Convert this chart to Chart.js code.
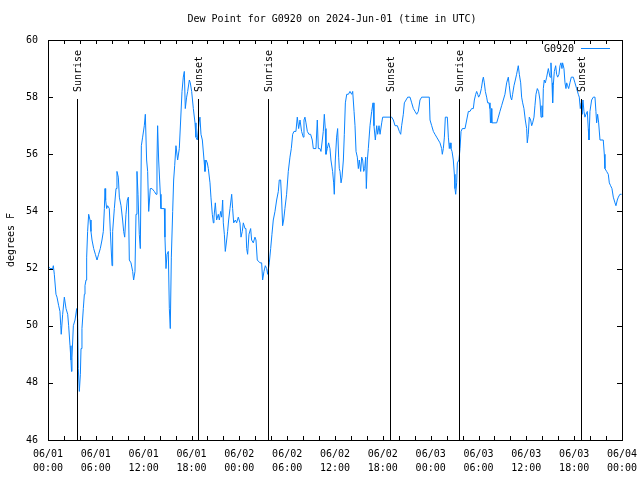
<!DOCTYPE html>
<html>
<head>
<meta charset="utf-8">
<script src="https://cdn.jsdelivr.net/npm/chart.js@4.4.1/dist/chart.umd.min.js"></script>
<style>
  html, body { margin: 0; padding: 0; background: #fff; }
</style>
</head>
<body>
<canvas id="chart" width="640" height="480"></canvas>
<script>
// hours since 06/01 00:00 UTC
const hours = [
  0, 0.25, 0.59, 0.67, 0.79, 1.00, 1.13, 1.34, 1.50, 1.60, 1.66, 1.84, 2.05, 2.26, 2.47, 2.59, 2.76, 2.88, 2.95, 3.01,
  3.18, 3.39, 3.60, 3.72, 3.80, 3.93, 4.06, 4.14, 4.26, 4.43, 4.56, 4.64, 4.77, 4.85, 4.97, 5.10, 5.27, 5.39, 5.52, 5.73,
  5.94, 6.15, 6.35, 6.56, 6.77, 6.94, 7.07, 7.15, 7.23, 7.36, 7.48, 7.69, 7.82, 8.03, 8.11, 8.32, 8.53, 8.65, 8.82, 8.95,
  9.16, 9.36, 9.49, 9.62, 9.78, 9.95, 10.08, 10.20, 10.41, 10.62, 10.74, 10.91, 11.04, 11.16, 11.29, 11.45, 11.58, 11.71, 11.87, 12.08,
  12.21, 12.37, 12.50, 12.63, 12.83, 13.04, 13.34, 13.55, 13.67, 13.75, 13.88, 14.09, 14.17, 14.59, 14.67, 14.80, 14.93, 15.09, 15.22, 15.34,
  15.47, 15.64, 15.76, 15.89, 16.05, 16.26, 16.47, 16.64, 16.81, 16.97, 17.10, 17.22, 17.39, 17.52, 17.73, 17.85, 18.02, 18.23, 18.44, 18.56,
  18.73, 18.94, 19.06, 19.19, 19.36, 19.57, 19.69, 19.82, 19.98, 20.11, 20.32, 20.44, 20.61, 20.74, 20.82, 20.99, 21.15, 21.36, 21.49, 21.66,
  21.78, 21.91, 21.99, 22.12, 22.24, 22.41, 22.53, 22.66, 22.83, 23.04, 23.16, 23.29, 23.50, 23.66, 23.87, 24.08, 24.21, 24.37, 24.50, 24.71,
  24.83, 24.92, 25.04, 25.21, 25.42, 25.54, 25.75, 25.96, 26.09, 26.25, 26.59, 26.80, 26.92, 27.09, 27.26, 27.43, 27.55, 27.76, 27.93, 28.09,
  28.26, 28.47, 28.68, 28.89, 29.01, 29.18, 29.31, 29.43, 29.56, 29.72, 29.93, 30.14, 30.35, 30.52, 30.69, 30.85, 31.10, 31.27, 31.44, 31.61,
  31.81, 32.02, 32.11, 32.23, 32.36, 32.53, 32.73, 32.94, 33.15, 33.28, 33.61, 33.78, 33.91, 34.11, 34.24, 34.41, 34.53, 34.66, 34.78, 34.87,
  35.03, 35.20, 35.37, 35.49, 35.70, 35.83, 35.91, 36.04, 36.20, 36.33, 36.46, 36.54, 36.63, 36.76, 36.88, 37.05, 37.17, 37.30, 37.47, 37.68,
  37.88, 38.09, 38.22, 38.39, 38.51, 38.64, 38.80, 38.93, 39.05, 39.22, 39.35, 39.47, 39.60, 39.72, 39.85, 39.93, 40.06, 40.18, 40.39, 40.60,
  40.77, 40.89, 41.06, 41.23, 41.35, 41.52, 41.65, 41.86, 41.98, 43.11, 43.32, 43.53, 43.82, 44.07, 44.24, 44.36, 44.57, 44.70, 44.91, 45.12,
  45.41, 45.62, 45.83, 46.04, 46.25, 46.45, 46.66, 46.87, 47.83, 47.92, 48.13, 48.34, 48.54, 48.75, 48.96, 49.17, 49.38, 49.46, 49.59, 49.72,
  49.84, 50.09, 50.22, 50.34, 50.43, 50.55, 50.68, 50.84, 50.97, 51.05, 51.14, 51.26, 51.35, 51.55, 51.68, 51.81, 51.97, 52.31, 52.52, 52.73,
  52.93, 53.14, 53.35, 53.48, 53.65, 53.77, 53.90, 54.02, 54.19, 54.36, 54.52, 54.61, 54.73, 54.86, 55.02, 55.15, 55.32, 55.44, 55.50, 55.60,
  55.67, 56.07, 56.28, 56.49, 56.69, 56.90, 57.11, 57.32, 57.53, 57.74, 57.86, 58.03, 58.16, 58.28, 58.45, 58.62, 58.78, 58.99, 59.12, 59.29,
  59.41, 59.54, 59.70, 59.87, 60.04, 60.12, 60.25, 60.37, 60.54, 60.67, 60.79, 60.96, 61.08, 61.21, 61.38, 61.54, 61.71, 61.84, 61.96, 62.05,
  62.13, 62.25, 62.38, 62.55, 62.76, 62.97, 63.09, 63.22, 63.30, 63.38, 63.51, 63.68, 63.80, 63.93, 64.09, 64.22, 64.34, 64.47, 64.55, 64.72,
  64.85, 64.97, 65.06, 65.18, 65.31, 65.47, 65.64, 65.89, 66.10, 66.31, 66.52, 66.64, 66.77, 66.90, 66.98, 67.10, 67.23, 67.35, 67.48, 67.65,
  67.77, 67.86, 67.98, 68.19, 68.40, 68.61, 68.73, 68.82, 68.94, 69.07, 69.24, 69.65, 69.78, 69.86, 70.07, 70.28, 70.41, 70.57, 70.74, 70.91,
  71.12, 71.24, 71.41, 71.54, 71.74, 71.95
];

// dew point, degrees F
const dewPoint = [
  52.1, 52.0, 52.0, 52.1, 51.8, 51.1, 51.0, 50.7, 50.5, 50.0, 49.7, 50.4, 51.0, 50.6, 50.4, 50.0, 49.3, 48.8, 48.4, 48.9,
  50.0, 50.2, 50.6, 50.2, 48.5, 47.7, 48.3, 49.2, 49.9, 50.6, 51.1, 51.4, 51.6, 52.4, 53.3, 53.9, 53.7, 53.3, 53.0, 52.7,
  52.5, 52.3, 52.5, 52.7, 53.0, 53.3, 54.1, 54.8, 54.4, 54.1, 54.2, 54.1, 53.3, 52.1, 53.3, 54.1, 54.8, 55.4, 55.2, 54.5,
  54.2, 53.7, 53.3, 53.1, 53.9, 54.4, 54.5, 52.3, 52.2, 51.9, 51.6, 51.9, 53.9, 55.4, 54.6, 53.2, 52.7, 56.3, 56.6, 57.0,
  57.4, 55.8, 55.4, 54.0, 54.8, 54.8, 54.7, 54.6, 55.8, 57.0, 55.8, 54.6, 54.1, 54.1, 53.1, 52.0, 52.5, 52.6, 50.6, 49.9,
  52.4, 54.0, 55.1, 55.6, 56.3, 55.8, 56.2, 57.2, 58.2, 58.7, 58.9, 57.6, 58.0, 58.2, 58.6, 58.5, 58.2, 57.6, 57.1, 56.6,
  56.5, 57.1, 57.3, 56.7, 56.5, 55.8, 55.4, 55.8, 55.7, 55.5, 55.0, 54.5, 53.9, 53.6, 53.8, 54.3, 53.7, 53.9, 53.7, 54.0,
  53.8, 54.4, 53.6, 53.2, 52.6, 53.0, 53.3, 53.7, 54.1, 54.6, 54.1, 53.6, 53.7, 53.6, 53.8, 53.6, 53.1, 53.3, 53.6, 53.4,
  53.4, 52.7, 52.5, 53.2, 53.4, 53.0, 52.9, 53.1, 53.0, 52.3, 52.2, 52.2, 51.6, 51.9, 52.1, 52.0, 51.8, 52.2, 52.7, 53.2,
  53.7, 54.0, 54.4, 54.7, 55.1, 55.1, 54.4, 53.5, 53.7, 54.1, 54.6, 55.4, 55.9, 56.2, 56.7, 56.8, 56.8, 57.3, 56.9, 57.2,
  56.8, 56.6, 57.2, 57.3, 57.1, 56.8, 56.7, 56.7, 56.5, 56.2, 56.2, 57.2, 56.2, 56.2, 56.1, 56.5, 56.8, 57.4, 56.9, 56.0,
  56.2, 56.4, 56.2, 55.8, 55.4, 55.0, 54.6, 55.8, 56.6, 56.9, 55.9, 55.5, 55.4, 55.0, 55.2, 55.8, 56.7, 57.8, 58.1, 58.1,
  58.2, 58.1, 58.2, 57.5, 57.0, 56.1, 55.9, 55.5, 55.8, 55.4, 55.9, 55.8, 55.4, 55.5, 55.9, 54.8, 55.8, 56.2, 57.0, 57.5,
  57.8, 57.0, 56.5, 57.0, 56.7, 57.0, 56.7, 57.1, 57.3, 57.3, 57.2, 57.0, 57.0, 56.8, 56.7, 57.0, 57.4, 57.8, 57.9, 58.0,
  58.0, 57.8, 57.6, 57.5, 57.4, 57.5, 57.9, 58.0, 58.0, 57.2, 57.0, 56.8, 56.7, 56.6, 56.5, 56.4, 56.2, 56.0, 56.2, 56.6,
  57.3, 57.3, 56.6, 56.2, 56.4, 56.2, 56.1, 55.8, 55.3, 54.8, 54.6, 55.0, 55.7, 55.8, 56.2, 56.8, 56.9, 56.9, 57.2, 57.5,
  57.5, 57.6, 57.6, 57.9, 58.1, 58.2, 58.1, 58.0, 58.1, 58.3, 58.6, 58.7, 58.5, 58.2, 58.0, 57.8, 57.8, 57.6, 57.1, 57.6,
  57.1, 57.1, 57.1, 57.3, 57.5, 57.7, 57.9, 58.1, 58.5, 58.7, 58.4, 58.0, 57.9, 58.1, 58.4, 58.6, 58.8, 59.1, 58.8, 58.5,
  58.0, 57.8, 57.6, 57.2, 56.9, 56.4, 56.7, 57.3, 57.2, 57.0, 57.1, 57.3, 57.7, 58.1, 58.3, 58.2, 57.9, 57.3, 57.7, 57.3,
  58.3, 58.6, 58.5, 58.7, 59.0, 58.7, 59.2, 58.5, 57.8, 58.4, 58.9, 59.1, 58.8, 58.7, 58.8, 59.1, 59.2, 59.0, 59.2, 59.0,
  58.5, 58.3, 58.5, 58.4, 58.3, 58.5, 58.7, 58.7, 58.5, 58.3, 58.1, 58.0, 57.6, 57.8, 57.4, 57.9, 57.5, 57.3, 57.4, 57.5,
  56.9, 56.5, 57.5, 57.9, 58.0, 58.0, 57.5, 57.1, 57.4, 57.1, 56.5, 56.5, 56.0, 55.5, 55.4, 55.3, 55.0, 54.9, 54.8, 54.5,
  54.3, 54.2, 54.4, 54.5, 54.6, 54.6
];

const sunTimes = [3.6, 18.85, 27.55, 42.85, 51.6, 66.9];
const sunLabels = ['Sunrise', 'Sunset', 'Sunrise', 'Sunset', 'Sunrise', 'Sunset'];

const xTickLabels = [
  ['06/01', '00:00'], ['06/01', '06:00'], ['06/01', '12:00'], ['06/01', '18:00'],
  ['06/02', '00:00'], ['06/02', '06:00'], ['06/02', '12:00'], ['06/02', '18:00'],
  ['06/03', '00:00'], ['06/03', '06:00'], ['06/03', '12:00'], ['06/03', '18:00'],
  ['06/04', '00:00']
];
const yTicks = [46, 48, 50, 52, 54, 56, 58, 60];

const stationName = 'G0920';
const titleText = 'Dew Point for G0920 on 2024-Jun-01 (time in UTC)';
const yTitle = 'degrees F';
const lineColor = '#0a84ff';
const monoFont = '"DejaVu Sans Mono", "Liberation Mono", monospace';

// gnuplot-like frame, inward ticks, sun lines, title and key
const decorations = {
  id: 'decorations',
  beforeDraw(chart) {
    const c = chart.ctx;
    c.save();
    c.fillStyle = '#fff';
    c.fillRect(0, 0, chart.width, chart.height);
    c.restore();
  },
  afterDatasetsDraw(chart) {
    const c = chart.ctx;
    const a = chart.chartArea;
    const xs = chart.scales.x;
    const ys = chart.scales.y;
    c.save();
    c.strokeStyle = '#000';
    c.fillStyle = '#000';
    c.lineWidth = 1;

    // ticks every 2 hours, top and bottom
    c.beginPath();
    for (let h = 0; h <= 72; h += 2) {
      const x = Math.round(xs.getPixelForValue(h)) + 0.5;
      c.moveTo(x, a.bottom); c.lineTo(x, a.bottom - 4);
      c.moveTo(x, a.top); c.lineTo(x, a.top + 4);
    }
    yTicks.forEach(v => {
      const y = Math.round(ys.getPixelForValue(v)) + 0.5;
      c.moveTo(a.left, y); c.lineTo(a.left + 5, y);
      c.moveTo(a.right, y); c.lineTo(a.right - 5, y);
    });
    c.stroke();

    // sunrise / sunset markers
    c.font = '10px ' + monoFont;
    sunTimes.forEach((t, i) => {
      const x = Math.round(xs.getPixelForValue(t)) + 0.5;
      c.beginPath();
      c.moveTo(x, a.top + 59);
      c.lineTo(x, a.bottom);
      c.stroke();
      c.save();
      c.translate(x + 1, a.top + 52);
      c.rotate(-Math.PI / 2);
      c.textAlign = 'left';
      c.textBaseline = 'middle';
      c.fillText(sunLabels[i], 0, 0);
      c.restore();
    });

    // frame
    c.strokeRect(Math.round(a.left) + 0.5, Math.round(a.top) + 0.5,
      Math.round(a.right - a.left), Math.round(a.bottom - a.top));

    // title
    c.textAlign = 'center';
    c.textBaseline = 'middle';
    c.fillText(titleText, 332, 19);

    // y axis title
    c.save();
    c.translate(11, (a.top + a.bottom) / 2);
    c.rotate(-Math.PI / 2);
    c.fillText(yTitle, 0, 0);
    c.restore();

    // key
    c.textAlign = 'right';
    c.fillText(stationName, a.right - 48, a.top + 9);
    c.strokeStyle = lineColor;
    c.beginPath();
    c.moveTo(a.right - 41, a.top + 8.5);
    c.lineTo(a.right - 12, a.top + 8.5);
    c.stroke();
    c.restore();
  }
};

const ctx = document.getElementById('chart').getContext('2d');
new Chart(ctx, {
  type: 'line',
  data: {
    datasets: [{
      label: stationName,
      data: hours.map((h, i) => ({ x: h, y: dewPoint[i] })),
      borderColor: lineColor,
      borderWidth: 1,
      pointRadius: 0,
      tension: 0,
      fill: false
    }]
  },
  options: {
    responsive: false,
    animation: false,
    events: [],
    layout: { padding: { top: 40, right: 18, bottom: 0, left: 0 } },
    plugins: {
      legend: { display: false },
      tooltip: { enabled: false },
      title: { display: false }
    },
    scales: {
      x: {
        type: 'linear',
        min: 0,
        max: 72,
        grid: { display: false, drawTicks: false },
        border: { display: false },
        ticks: {
          stepSize: 6,
          autoSkip: false,
          maxRotation: 0,
          padding: 7,
          color: '#000',
          font: { family: monoFont, size: 10, lineHeight: 1.45 },
          callback: v => xTickLabels[v / 6]
        },
        afterFit: s => { s.height = 40; s.paddingLeft = 0; s.paddingRight = 0; }
      },
      y: {
        min: 46,
        max: 60,
        grid: { display: false, drawTicks: false },
        border: { display: false },
        ticks: {
          stepSize: 2,
          padding: 10,
          color: '#000',
          font: { family: monoFont, size: 10 }
        },
        afterFit: s => { s.width = 48; }
      }
    }
  },
  plugins: [decorations]
});
</script>
</body>
</html>
